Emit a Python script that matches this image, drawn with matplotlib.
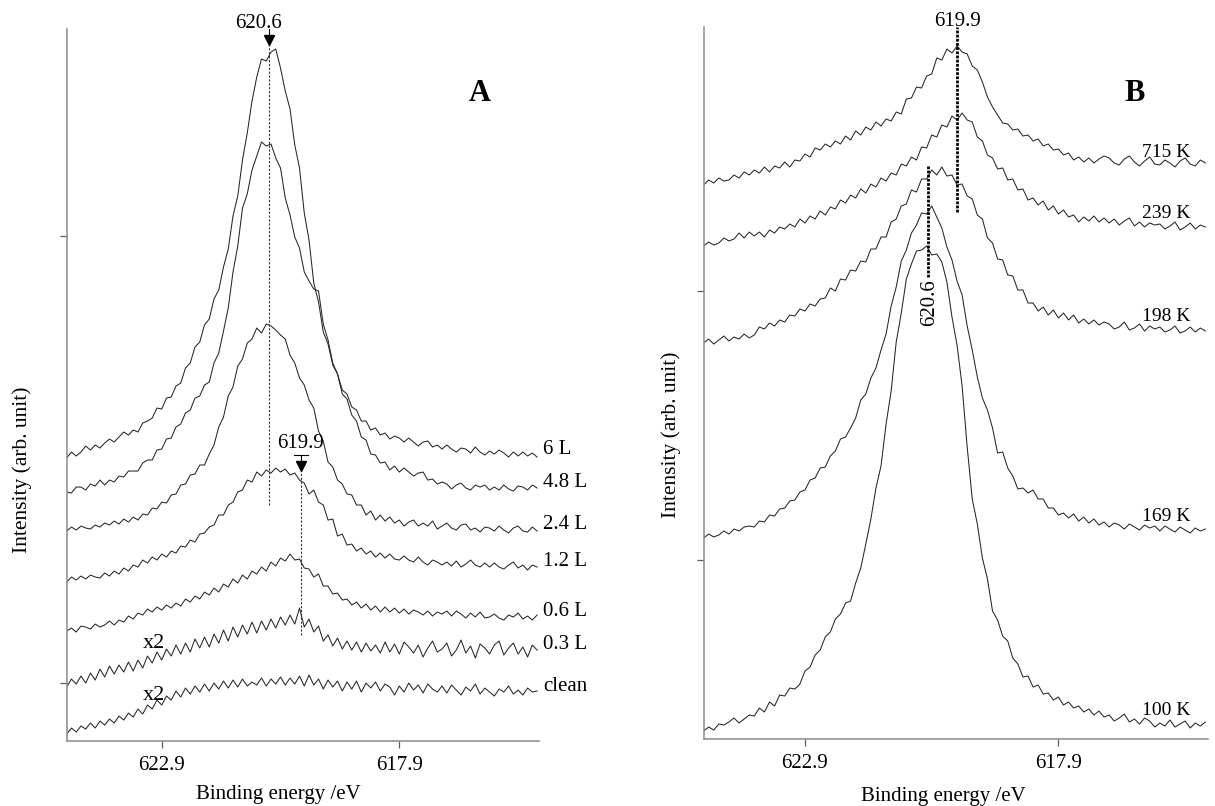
import numpy as np
import matplotlib.pyplot as plt

plt.rcParams['font.family'] = ['Liberation Serif', 'DejaVu Serif']

# binding energy grid (eV) shared by every spectrum, 624.9 -> 615.0
energy = np.linspace(624.9, 615.0, 100)

# ---- panel A: exposure series (offset stacked, arb. unit) ----
a_labels = ['6 L', '4.8 L', '2.4 L', '1.2 L', '0.6 L', '0.3 L', 'clean']

a_6L = [225, 231, 227, 231, 237, 233, 238, 235, 240, 244,
        241, 246, 251, 248, 253, 251, 260, 262, 265, 275,
        274, 285, 286, 297, 300, 315, 320, 336, 341, 358,
        364, 384, 393, 416, 434, 467, 487, 523, 550, 582,
        606, 624, 622, 631, 634, 615, 592, 574, 538, 515,
        470, 443, 400, 381, 351, 339, 318, 309, 293, 289,
        276, 273, 262, 262, 253, 255, 248, 250, 244, 247,
        245, 241, 245, 241, 237, 241, 242, 236, 238, 234,
        238, 234, 231, 235, 234, 230, 236, 231, 228, 232,
        229, 233, 230, 226, 231, 227, 231, 227, 230, 226]

a_4p8L = [191, 190, 196, 196, 193, 199, 197, 203, 198, 203,
          201, 207, 206, 212, 212, 212, 220, 223, 223, 233,
          234, 244, 245, 256, 259, 270, 273, 285, 287, 298,
          301, 320, 330, 352, 375, 411, 437, 475, 489, 513,
          527, 541, 537, 539, 525, 515, 485, 468, 446, 435,
          411, 402, 394, 392, 359, 343, 320, 309, 289, 284,
          268, 262, 246, 243, 229, 228, 220, 221, 213, 217,
          211, 215, 211, 207, 210, 211, 203, 204, 199, 201,
          199, 194, 198, 200, 195, 193, 198, 196, 198, 193,
          196, 193, 198, 194, 192, 197, 196, 193, 198, 195]

a_2p4L = [152, 156, 153, 157, 155, 154, 158, 156, 160, 158,
          162, 159, 164, 161, 166, 163, 169, 168, 175, 174,
          181, 180, 188, 189, 198, 199, 208, 209, 218, 218,
          229, 238, 256, 266, 287, 296, 317, 324, 340, 344,
          355, 350, 359, 357, 353, 348, 344, 328, 320, 305,
          298, 283, 275, 252, 242, 221, 216, 203, 199, 189,
          188, 178, 178, 168, 172, 163, 168, 162, 166, 160,
          163, 157, 161, 163, 157, 160, 157, 162, 154, 157,
          160, 155, 153, 158, 159, 153, 155, 151, 156, 155,
          152, 157, 153, 150, 155, 157, 152, 151, 156, 152]

a_1p2L = [101, 106, 103, 107, 104, 108, 106, 105, 110, 107,
          112, 109, 115, 112, 118, 116, 123, 120, 126, 123,
          129, 126, 132, 130, 137, 136, 143, 141, 149, 150,
          156, 158, 168, 168, 178, 181, 191, 193, 203, 201,
          211, 207, 213, 210, 215, 211, 214, 208, 210, 203,
          200, 189, 193, 181, 178, 163, 164, 147, 149, 138,
          139, 132, 135, 129, 132, 126, 130, 125, 129, 124,
          123, 127, 123, 121, 126, 121, 118, 123, 121, 118,
          121, 117, 122, 116, 119, 123, 118, 116, 120, 116,
          120, 116, 114, 118, 121, 115, 118, 113, 118, 116]

a_0p6L = [52, 55, 51, 57, 56, 54, 59, 56, 58, 62,
          58, 63, 61, 67, 64, 70, 68, 74, 71, 76,
          73, 78, 75, 80, 77, 84, 81, 87, 84, 91,
          88, 95, 91, 99, 96, 104, 100, 108, 104, 112,
          109, 116, 112, 121, 117, 125, 122, 129, 123, 124,
          115, 114, 106, 109, 97, 97, 89, 90, 83, 84,
          78, 81, 75, 79, 73, 77, 71, 76, 71, 75,
          70, 74, 69, 73, 71, 68, 72, 67, 71, 69,
          72, 67, 72, 69, 65, 70, 66, 71, 65, 66,
          69, 65, 63, 68, 66, 70, 64, 67, 63, 68]

# x2 magnified traces
a_0p3L = [-4, 4, -1, 7, 0, 10, 3, 14, 6, 17,
          9, 18, 11, 21, 12, 23, 15, 27, 20, 31,
          23, 34, 27, 38, 29, 40, 31, 44, 35, 46,
          36, 49, 40, 53, 42, 56, 46, 58, 49, 61,
          50, 62, 53, 64, 55, 66, 58, 68, 59, 75,
          56, 64, 51, 57, 42, 48, 37, 45, 34, 42,
          33, 41, 31, 40, 32, 38, 30, 41, 31, 39,
          29, 41, 36, 30, 38, 26, 35, 42, 31, 34,
          40, 27, 33, 43, 30, 37, 25, 39, 35, 29,
          38, 42, 28, 35, 40, 29, 36, 26, 38, 33]

a_clean = [-51, -45, -49, -43, -46, -40, -45, -38, -42, -36,
           -40, -33, -37, -30, -34, -26, -31, -22, -26, -17,
           -22, -13, -17, -8, -14, -5, -11, -3, -9, -1,
           -8, 0, -6, 2, -5, 3, -4, 4, -3, 1,
           -2, 5, -3, 4, -1, 6, -2, 5, -1, 7,
           -3, 8, -2, 4, -6, 3, -4, 2, -8, 1,
           -6, 2, -9, 0, -5, 1, -8, -1, -4, -12,
           -3, -9, 0, -7, -2, -10, -1, -6, -9, -3,
           -10, -2, -7, -12, -4, -8, -1, -11, -5, -9,
           -13, -6, -9, -3, -11, -7, -12, -5, -9, -8]

a_spectra = [a_6L, a_4p8L, a_2p4L, a_1p2L, a_0p6L, a_0p3L, a_clean]

# ---- panel B: annealing series ----
b_labels = ['715 K', '239 K', '198 K', '169 K', '100 K']

b_715K = [375, 380, 377, 382, 379, 380, 385, 382, 388, 385,
          390, 387, 393, 388, 394, 392, 398, 393, 400, 399,
          406, 403, 412, 410, 416, 413, 419, 416, 424, 420,
          429, 425, 433, 430, 438, 434, 441, 439, 448, 446,
          461, 462, 473, 472, 484, 486, 502, 500, 511, 507,
          514, 508, 506, 494, 490, 478, 463, 453, 445, 437,
          436, 430, 431, 424, 425, 419, 421, 414, 416, 410,
          411, 405, 407, 400, 403, 398, 402, 397, 401, 404,
          402, 397, 395, 401, 404, 398, 394, 399, 403, 396,
          395, 400, 397, 393, 399, 402, 396, 394, 400, 397]

b_239K = [314, 318, 315, 317, 322, 319, 321, 327, 322, 328,
          324, 328, 323, 330, 327, 333, 331, 336, 333, 341,
          337, 344, 341, 349, 345, 353, 351, 360, 357, 365,
          362, 371, 367, 376, 373, 382, 379, 387, 385, 396,
          394, 403, 400, 413, 412, 425, 423, 435, 433, 444,
          440, 447, 440, 438, 423, 419, 405, 402, 391, 392,
          380, 381, 370, 371, 360, 362, 355, 359, 350, 354,
          346, 350, 343, 345, 338, 343, 339, 344, 338, 342,
          337, 341, 335, 339, 342, 334, 338, 333, 337, 335,
          336, 331, 334, 338, 330, 333, 337, 331, 335, 333]

b_198K = [217, 221, 216, 220, 224, 219, 223, 221, 226, 222,
          225, 233, 231, 237, 234, 240, 238, 245, 244, 251,
          249, 256, 254, 261, 262, 272, 269, 281, 280, 290,
          289, 299, 298, 311, 311, 323, 323, 338, 341, 354,
          356, 370, 368, 381, 381, 390, 385, 393, 384, 385,
          375, 376, 364, 361, 345, 341, 322, 317, 301, 300,
          285, 284, 270, 270, 257, 257, 249, 253, 245, 250,
          242, 247, 240, 245, 237, 241, 236, 240, 235, 238,
          236, 231, 233, 238, 230, 232, 236, 229, 234, 231,
          233, 228, 230, 234, 227, 229, 233, 228, 232, 229]

b_169K = [22, 26, 23, 25, 29, 26, 31, 29, 33, 34,
          33, 39, 38, 45, 44, 51, 52, 59, 60, 68,
          70, 80, 82, 92, 93, 104, 109, 121, 123, 132,
          142, 160, 166, 182, 192, 210, 226, 254, 273, 299,
          310, 327, 335, 347, 346, 354, 343, 332, 313, 300,
          279, 265, 234, 210, 183, 162, 150, 132, 107, 108,
          92, 84, 71, 72, 67, 70, 61, 61, 52, 52,
          45, 47, 42, 46, 39, 43, 37, 41, 35, 38,
          33, 37, 35, 31, 36, 33, 30, 35, 32, 34,
          29, 34, 31, 28, 33, 30, 27, 32, 29, 31]

b_100K = [-171, -167, -170, -164, -165, -162, -158, -163, -159, -155,
          -156, -148, -152, -142, -146, -135, -136, -128, -129, -124,
          -111, -107, -95, -90, -77, -72, -59, -54, -43, -41,
          -23, -8, 16, 41, 72, 94, 136, 169, 218, 247,
          281, 296, 309, 310, 314, 305, 306, 298, 278, 243,
          215, 174, 113, 61, 36, 2, -19, -51, -60, -76,
          -81, -98, -104, -117, -116, -127, -125, -134, -133, -140,
          -137, -145, -142, -148, -146, -152, -149, -155, -151, -157,
          -155, -161, -158, -154, -162, -159, -164, -158, -161, -167,
          -163, -166, -160, -167, -164, -161, -168, -163, -166, -162]

b_spectra = [b_715K, b_239K, b_198K, b_169K, b_100K]

line_col = '#262626'
spine_col = '#8a8a8a'

fig = plt.figure(figsize=(12.15, 8.06), dpi=100)
axA = fig.add_axes([0.0549, 0.0806, 0.3891, 0.8834])
axB = fig.add_axes([0.5791, 0.0831, 0.4151, 0.8834])

for ax in (axA, axB):
    ax.set_xlim(624.9, 614.95)
    ax.set_xticks([622.9, 617.9])
    ax.set_xticklabels(['622.9', '617.9'])
    ax.spines[['top', 'right']].set_visible(False)
    for s in ('left', 'bottom'):
        ax.spines[s].set_color(spine_col)
        ax.spines[s].set_linewidth(1.1)
    ax.tick_params(direction='out', length=5, width=0.9, color='#606060',
                   labelsize=15, pad=6)

axA.set_ylim(-58, 654)
axA.set_yticks([0, 447])
axA.set_yticklabels([])
axB.set_ylim(-179, 533)
axB.set_yticks([0, 269])
axB.set_yticklabels([])

# panel A traces
for name, vals in zip(a_labels, a_spectra):
    axA.plot(energy, vals, color=line_col, lw=0.75)
    axA.text(614.87, np.mean(vals[-6:]) + 5, name, ha='left', va='center',
             fontsize=15)
axA.text(623.07, 40, 'x2', ha='center', va='center', fontsize=16)
axA.text(623.07, -12, 'x2', ha='center', va='center', fontsize=16)

# 620.6 marker
axA.plot([620.65, 620.65], [178, 640], color='#333333', lw=0.8,
         ls=(0, (2, 1.5)))
axA.plot([620.65, 620.65], [654, 643], color='black', lw=0.8, clip_on=False)
axA.plot(620.65, 643, marker='v', ms=6.5, color='black', clip_on=False)
axA.text(620.86, 660, '620.6', ha='center', va='center', fontsize=15)

# 619.9 marker
axA.plot([619.96, 619.96], [48, 213], color='#333333', lw=0.8,
         ls=(0, (2, 1.5)))
axA.plot([620.11, 619.82], [228, 228], color='black', lw=0.8)
axA.plot([619.96, 619.96], [228, 219], color='black', lw=0.8)
axA.plot(619.96, 217, marker='v', ms=6.5, color='black')
axA.text(619.98, 240, '619.9', ha='center', va='center', fontsize=15)

axA.text(616.2, 590, 'A', ha='center', va='center', fontsize=22,
         fontweight='bold')

# panel B traces
for name, vals in zip(b_labels, b_spectra):
    axB.plot(energy, vals, color=line_col, lw=0.75)
    axB.text(616.25, np.interp(616.25, energy[::-1], vals[::-1]) + 11, name,
             ha='left', va='center', fontsize=14)

axB.plot([619.9, 619.9], [348, 533], color='black', lw=2.0,
         ls=(0, (1, 0.5)), clip_on=False)
axB.text(619.9, 539, '619.9', ha='center', va='center', fontsize=15)
axB.plot([620.47, 620.47], [283, 394], color='black', lw=2.0,
         ls=(0, (1, 0.5)))
axB.text(620.45, 257, '620.6', ha='center', va='center', fontsize=15,
         rotation=90)

axB.text(616.4, 467, 'B', ha='center', va='center', fontsize=22,
         fontweight='bold')

# axis titles
fig.text(278 / 1215, 1 - 795 / 806, 'Binding energy /eV', ha='center',
         va='center', fontsize=15)
fig.text(943 / 1215, 1 - 797 / 806, 'Binding energy /eV', ha='center',
         va='center', fontsize=15)
fig.text(22 / 1215, 1 - 470 / 806, 'Intensity (arb. unit)', ha='center',
         va='center', rotation=90, fontsize=15.5)
fig.text(671 / 1215, 1 - 435 / 806, 'Intensity (arb. unit)', ha='center',
         va='center', rotation=90, fontsize=15.5)

fig.savefig('out.png', dpi=100)
